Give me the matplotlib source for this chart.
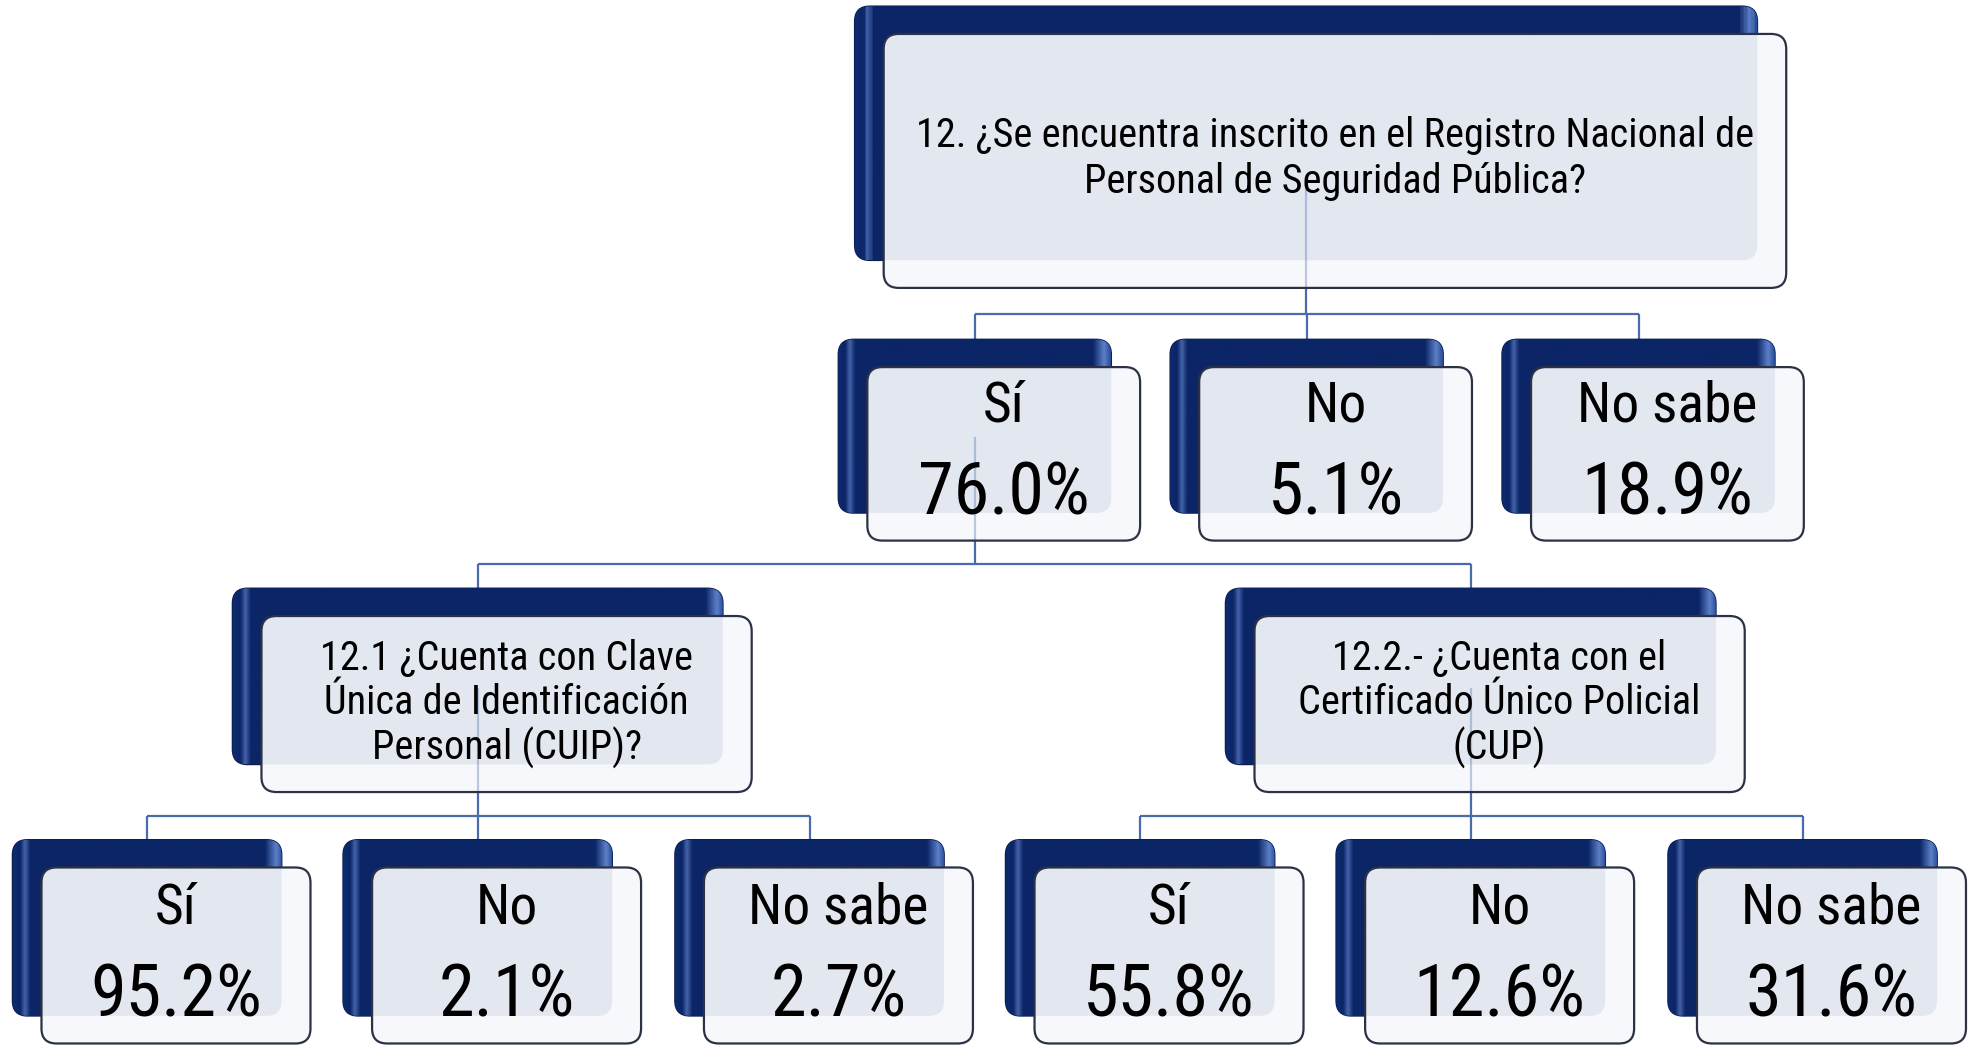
import matplotlib
matplotlib.use("Agg")
import matplotlib.pyplot as plt
import numpy as np
from matplotlib.patches import FancyBboxPatch
from matplotlib.colors import LinearSegmentedColormap

# ---------------- data ----------------
root_question = "12. ¿Se encuentra inscrito en el Registro Nacional de\nPersonal de Seguridad Pública?"
answer_labels = ["Sí", "No", "No sabe"]
root_values = [76.0, 5.1, 18.9]
sub_questions = ["12.1 ¿Cuenta con Clave\nÚnica de Identificación\nPersonal (CUIP)?",
                 "12.2.- ¿Cuenta con el\nCertificado Único Policial\n(CUP)"]
sub1_values = [95.2, 2.1, 2.7]
sub2_values = [55.8, 12.6, 31.6]

FONT = ["Roboto Condensed", "Liberation Sans", "DejaVu Sans"]
plt.rcParams["font.family"] = FONT

W, H = 1568, 832
fig = plt.figure(figsize=(19.71, 10.46), dpi=100)
ax = fig.add_axes([0, 0, 1, 1])
ax.set_xlim(0, W)
ax.set_ylim(H, 0)
ax.set_aspect("equal")
ax.set_autoscale_on(False)
ax.axis("off")

DX, DY = 23, 22   # offset of front box relative to back box
RAD = 12
LINE_C = "#4a6cab"
NAVY = "#0b2566"


def dark_cmap(w):
    hl = 9.0 / w      # position of the glossy stripe on the left
    return LinearSegmentedColormap.from_list(
        "dk", [(0.0, "#0e2a6e"), (hl * 0.6, NAVY), (hl, "#4664ab"), (hl * 1.5, NAVY),
               (1 - 14.0 / w, NAVY), (1 - 5.0 / w, "#5c80c8"), (1.0, "#2c4e9a")])


def rpatch(x, y, w, h, **kw):
    return FancyBboxPatch((x, y), w, h, boxstyle=f"round,pad=0,rounding_size={RAD}", **kw)


def node(x, y, w, h):
    """x, y: top-left of dark back box."""
    back = rpatch(x, y, w, h, facecolor=NAVY, edgecolor="#0a1f55", lw=1.2, zorder=2)
    ax.add_patch(back)
    grad = np.linspace(0, 1, 512).reshape(1, -1)
    im = ax.imshow(grad, cmap=dark_cmap(w), extent=(x, x + w, y + h, y), aspect="auto",
                   zorder=2.1, interpolation="bilinear")
    im.set_clip_path(back)
    fx, fy = x + DX, y + DY
    front = rpatch(fx, fy, w, h, facecolor="#f7f8fb", edgecolor="none", zorder=3)
    ax.add_patch(front)
    overlap = rpatch(x, y, w, h, facecolor="#e3e7ef", edgecolor="none", zorder=3.1)
    ax.add_patch(overlap)
    overlap.set_clip_path(front)
    outline = rpatch(fx, fy, w, h, facecolor="none", edgecolor="#2b3246", lw=1.6, zorder=6)
    ax.add_patch(outline)
    return dict(x=x, y=y, w=w, h=h, cx=x + w / 2, fcx=fx + w / 2, fcy=fy + h / 2,
                bottom=y + h, fbottom=fy + h, front=front)


def connect(parent, children):
    bus = (parent["fbottom"] + children[0]["y"]) / 2
    segs = [([parent["cx"], parent["cx"]], [parent["bottom"], bus]),
            ([children[0]["cx"], children[-1]["cx"]], [bus, bus])]
    for c in children:
        segs.append(([c["cx"], c["cx"]], [bus, c["y"]]))
    for xs, ys in segs:
        ax.plot(xs, ys, color=LINE_C, lw=1.6, zorder=1, solid_capstyle="butt")
    ln, = ax.plot([parent["cx"], parent["cx"]], [parent["bottom"] - 60, parent["fbottom"]],
                  color=LINE_C, lw=1.6, alpha=0.35, zorder=5)
    ln.set_clip_path(parent["front"])


def answer_text(n, label, value, lab_size=40, val_size=52, dl=-38, dv=33):
    ax.text(n["fcx"], n["fcy"] + dl, label, ha="center", va="center", fontsize=lab_size,
            color="black", zorder=7)
    ax.text(n["fcx"], n["fcy"] + dv, f"{value:.1f}%", ha="center", va="center",
            fontsize=val_size, color="black", zorder=7)


# ---------------- layout ----------------
root = node(680, 5, 718, 202)
ax.text(root["fcx"], root["fcy"] - 2, root_question, ha="center", va="center", fontsize=29,
        linespacing=1.2, zorder=7)

lvl2_x = [667, 931, 1195]
lvl2 = [node(x, 270, 217, 138) for x in lvl2_x]
for n, lab, v in zip(lvl2, answer_labels, root_values):
    answer_text(n, lab, v)
connect(root, lvl2)

lvl3_x = [185, 975]
lvl3 = [node(x, 468, 390, 140) for x in lvl3_x]
for n, q in zip(lvl3, sub_questions):
    ax.text(n["fcx"], n["fcy"], q, ha="center", va="center", fontsize=29, linespacing=1.15,
            zorder=7)
connect(lvl2[0], lvl3)

lvl4_x = [[10, 273, 537], [800, 1063, 1327]]
for parent, xs, vals in zip(lvl3, lvl4_x, [sub1_values, sub2_values]):
    kids = [node(x, 668, 214, 140) for x in xs]
    for n, lab, v in zip(kids, answer_labels, vals):
        answer_text(n, lab, v)
    connect(parent, kids)

fig.savefig("out.png", dpi=100, facecolor="white")
